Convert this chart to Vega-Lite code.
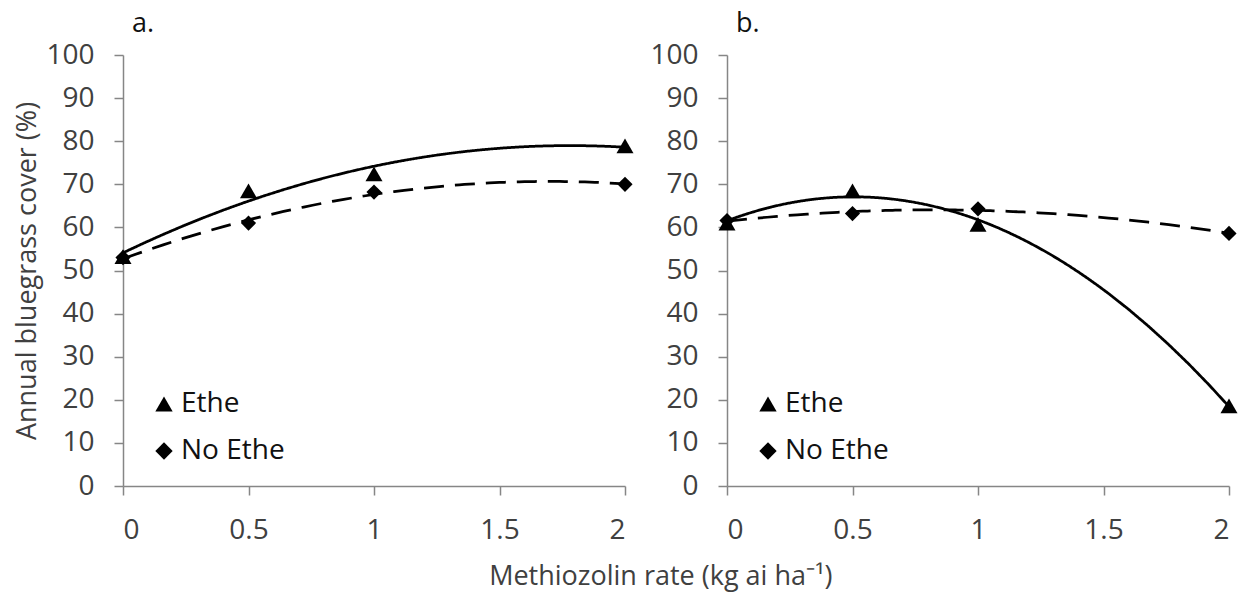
{
  "$schema": "https://vega.github.io/schema/vega-lite/v6.json",
  "background": "white",
  "padding": {"left": 13, "top": 10, "right": 4, "bottom": 14},
  "config": {
    "font": "Open Sans",
    "view": {"stroke": null},
    "axis": {
      "domainColor": "#868686", "tickColor": "#868686", "domainWidth": 1.5, "tickWidth": 1.5,
      "tickSize": 9, "labelFontSize": 28, "labelColor": "#404040", "grid": false,
      "titleFontSize": 27, "titleColor": "#404040", "titleFontWeight": "normal"
    },
    "legend": {
      "orient": "none", "legendX": 27, "legendY": 335, "title": null,
      "labelFontSize": 28, "labelColor": "#111111", "symbolSize": 300,
      "symbolFillColor": "black", "symbolStrokeColor": "black", "symbolStrokeWidth": 0,
      "rowPadding": 19, "labelOffset": 3
    }
  },
  "datasets": {
    "a": [
      {"x": 0, "y": 53.2, "series": "Ethe"},
      {"x": 0.5, "y": 68.5, "series": "Ethe"},
      {"x": 1, "y": 72.4, "series": "Ethe"},
      {"x": 2, "y": 78.9, "series": "Ethe"},
      {"x": 0, "y": 53.0, "series": "No Ethe"},
      {"x": 0.5, "y": 61.0, "series": "No Ethe"},
      {"x": 1, "y": 68.2, "series": "No Ethe"},
      {"x": 2, "y": 70.0, "series": "No Ethe"}
    ],
    "b": [
      {"x": 0, "y": 61.0, "series": "Ethe"},
      {"x": 0.5, "y": 68.5, "series": "Ethe"},
      {"x": 1, "y": 60.7, "series": "Ethe"},
      {"x": 2, "y": 18.6, "series": "Ethe"},
      {"x": 0, "y": 61.6, "series": "No Ethe"},
      {"x": 0.5, "y": 63.2, "series": "No Ethe"},
      {"x": 1, "y": 64.3, "series": "No Ethe"},
      {"x": 2, "y": 58.6, "series": "No Ethe"}
    ]
  },
  "title": {
    "text": "Methiozolin rate (kg ai ha⁻¹)", "orient": "bottom", "anchor": "middle", "dx": 35,
    "fontSize": 27, "fontWeight": "normal", "color": "#404040", "offset": 20
  },
  "spacing": 102,
  "bounds": "flush",
  "resolve": {"legend": {"shape": "independent"}},
  "hconcat": [
    {
      "width": 502, "height": 431,
      "title": {"text": "a.", "anchor": "start", "frame": "group", "dx": 9, "offset": 3, "fontSize": 27, "fontWeight": "normal", "color": "#111111"},
      "data": {"name": "a"},
      "layer": [
        {
          "transform": [{"regression": "y", "on": "x", "groupby": ["series"], "method": "poly", "order": 2, "extent": [0, 2]}],
          "mark": {"type": "line", "strokeWidth": 2.75, "color": "black"},
          "encoding": {
            "x": {"field": "x", "type": "quantitative", "scale": {"domain": [0, 2], "nice": false}, "axis": {"values": [0, 0.5, 1, 1.5, 2], "format": "~g", "title": null, "labelPadding": 21}},
            "y": {"field": "y", "type": "quantitative", "scale": {"domain": [0, 100], "nice": false}, "axis": {"values": [0,10,20,30,40,50,60,70,80,90,100], "title": "Annual bluegrass cover  (%)", "labelPadding": 20, "titlePadding": 4}},
            "strokeDash": {"field": "series", "type": "nominal", "scale": {"domain": ["Ethe", "No Ethe"], "range": [[1, 0], [20, 11]]}, "legend": null}
          }
        },
        {
          "mark": {"type": "point", "filled": true, "color": "black", "opacity": 1},
          "encoding": {
            "x": {"field": "x", "type": "quantitative"},
            "y": {"field": "y", "type": "quantitative"},
            "shape": {"field": "series", "type": "nominal", "scale": {"domain": ["Ethe", "No Ethe"], "range": ["triangle-up", "diamond"]}},
            "size": {"field": "series", "type": "nominal", "scale": {"domain": ["Ethe", "No Ethe"], "range": [290, 230]}, "legend": null}
          }
        }
      ]
    },
    {
      "width": 502, "height": 431,
      "title": {"text": "b.", "anchor": "start", "frame": "group", "dx": 9, "offset": 3, "fontSize": 27, "fontWeight": "normal", "color": "#111111"},
      "data": {"name": "b"},
      "layer": [
        {
          "transform": [{"regression": "y", "on": "x", "groupby": ["series"], "method": "poly", "order": 2, "extent": [0, 2]}],
          "mark": {"type": "line", "strokeWidth": 2.75, "color": "black"},
          "encoding": {
            "x": {"field": "x", "type": "quantitative", "scale": {"domain": [0, 2], "nice": false}, "axis": {"values": [0, 0.5, 1, 1.5, 2], "format": "~g", "title": null, "labelPadding": 21}},
            "y": {"field": "y", "type": "quantitative", "scale": {"domain": [0, 100], "nice": false}, "axis": {"values": [0,10,20,30,40,50,60,70,80,90,100], "title": null, "labelPadding": 20}},
            "strokeDash": {"field": "series", "type": "nominal", "scale": {"domain": ["Ethe", "No Ethe"], "range": [[1, 0], [20, 11]]}, "legend": null}
          }
        },
        {
          "mark": {"type": "point", "filled": true, "color": "black", "opacity": 1},
          "encoding": {
            "x": {"field": "x", "type": "quantitative"},
            "y": {"field": "y", "type": "quantitative"},
            "shape": {"field": "series", "type": "nominal", "scale": {"domain": ["Ethe", "No Ethe"], "range": ["triangle-up", "diamond"]}},
            "size": {"field": "series", "type": "nominal", "scale": {"domain": ["Ethe", "No Ethe"], "range": [290, 230]}, "legend": null}
          }
        }
      ]
    }
  ]
}
